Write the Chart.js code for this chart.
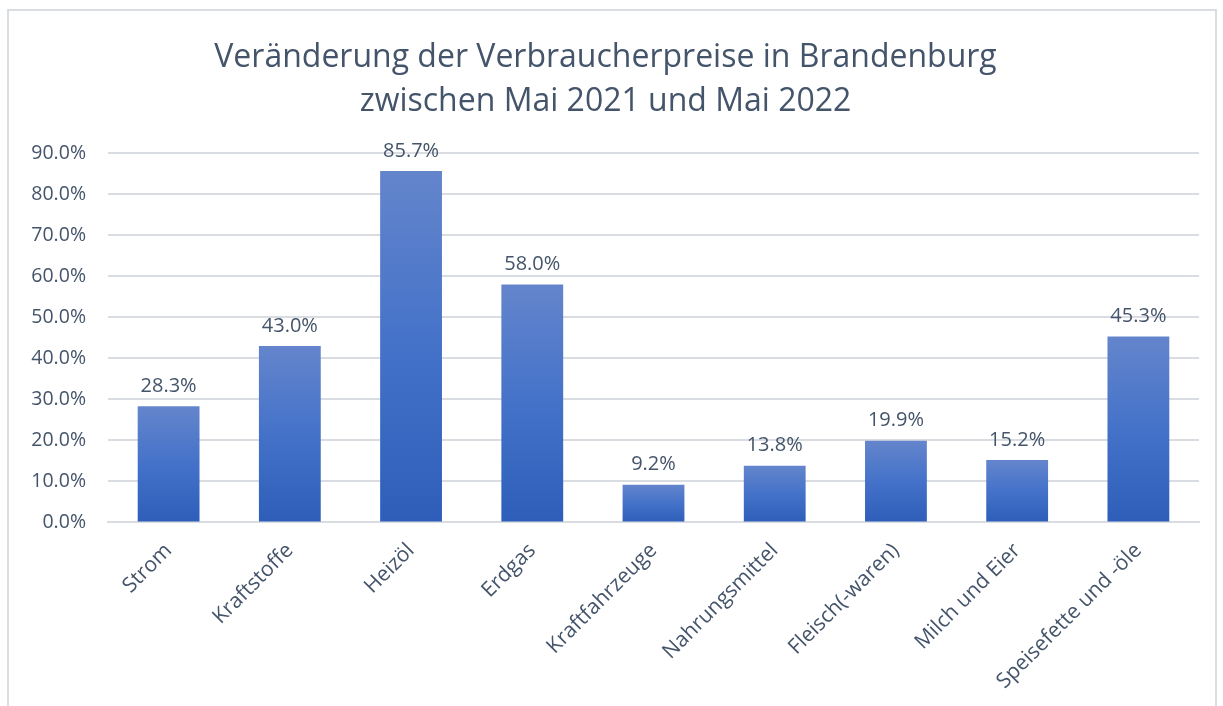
<!DOCTYPE html>
<html>
<head>
<meta charset="utf-8">
<script src="https://cdn.jsdelivr.net/npm/chart.js@4"></script>
<style>
  body { margin: 0; background: #fff; }
  #wrap { position: relative; width: 1223px; height: 706px; }
  #frame { position: absolute; left: 7px; top: 9px; width: 1210px; height: 720px; border: 2px solid #dadde2; box-sizing: border-box; }
  #chart { position: absolute; left: 0; top: 0; }
</style>
</head>
<body>
<div id="wrap">
  <div id="frame"></div>
  <canvas id="chart" width="1223" height="706"></canvas>
</div>
<script>
const categories = ['Strom', 'Kraftstoffe', 'Heizöl', 'Erdgas', 'Kraftfahrzeuge', 'Nahrungsmittel', 'Fleisch(-waren)', 'Milch und Eier', 'Speisefette und -öle'];
const changes = [28.3, 43.0, 85.7, 58.0, 9.2, 13.8, 19.9, 15.2, 45.3];
const titleLines = ['Veränderung der Verbraucherpreise in Brandenburg', 'zwischen Mai 2021 und Mai 2022'];

const textColor = '#44546a';
const fontFamily = "'Open Sans', 'Noto Sans', sans-serif";

// gradient per bar: lighter at top, darker at the bottom
function barGradient(context) {
    const chart = context.chart;
    if (!chart.chartArea || context.dataIndex === undefined) return '#4472c4';
    const y = chart.scales.y;
    const top = y.getPixelForValue(context.raw);
    const bottom = y.getPixelForValue(0);
    const g = chart.ctx.createLinearGradient(0, top, 0, bottom);
    g.addColorStop(0, '#6485cc');
    g.addColorStop(0.5, '#4472c9');
    g.addColorStop(1, '#2e5eb9');
    return g;
}

// value labels above each bar
const valueLabels = {
    id: 'valueLabels',
    afterDatasetsDraw(chart) {
        const ctx = chart.ctx;
        const meta = chart.getDatasetMeta(0);
        ctx.save();
        ctx.font = '20px ' + fontFamily;
        ctx.fillStyle = textColor;
        ctx.textAlign = 'center';
        ctx.textBaseline = 'bottom';
        meta.data.forEach((bar, i) => {
            ctx.fillText(changes[i].toFixed(1) + '%', bar.x, bar.y - 10);
        });
        ctx.restore();
    }
};

new Chart(document.getElementById('chart'), {
    type: 'bar',
    data: {
        labels: categories,
        datasets: [{
            data: changes,
            backgroundColor: barGradient,
            barPercentage: 0.51,
            categoryPercentage: 1
        }]
    },
    options: {
        responsive: false,
        animation: false,
        layout: { padding: { left: 12, right: 24, top: 36, bottom: 4 } },
        scales: {
            x: {
                grid: { display: false },
                border: { color: '#d9dce1', width: 2 },
                ticks: {
                    color: textColor,
                    font: { size: 21, family: fontFamily },
                    minRotation: 45,
                    maxRotation: 45,
                    padding: 8
                }
            },
            y: {
                min: 0,
                max: 90,
                afterFit: s => { s.width = 96; },
                border: { display: false },
                grid: { color: '#d9dce1', lineWidth: 2, drawTicks: false },
                ticks: {
                    stepSize: 10,
                    color: textColor,
                    font: { size: 19.5, family: fontFamily },
                    padding: 22,
                    callback: v => v.toFixed(1) + '%'
                }
            }
        },
        plugins: {
            legend: { display: false },
            tooltip: { enabled: false },
            title: {
                display: true,
                text: titleLines,
                color: textColor,
                font: { size: 32, family: fontFamily, weight: 'normal', lineHeight: 1.38 },
                padding: { top: 0, bottom: 29 }
            }
        }
    },
    plugins: [valueLabels]
});
</script>
</body>
</html>
